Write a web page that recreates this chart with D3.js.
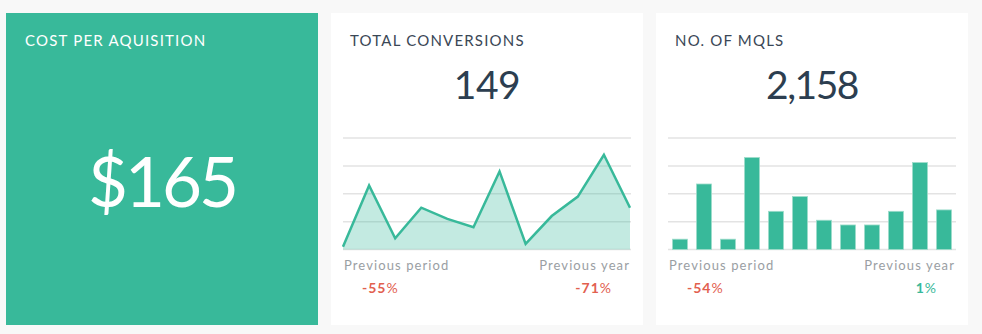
<!DOCTYPE html>
<html>
<head>
<meta charset="utf-8">
<script src="https://cdn.jsdelivr.net/npm/d3@7/dist/d3.min.js"></script>
<style>
  html, body { margin: 0; padding: 0; background: #f8f8f8; }
  svg { display: block; }
  text { font-family: Lato, "Open Sans", sans-serif; }
</style>
</head>
<body>
<svg id="dash" width="982" height="334"></svg>
<script>
// KPI values
const cpaValue = "$165";
const conversionsTotal = "149";
const mqlTotal = "2,158";

// Total conversions, per period
const conversionPeriods = ["P1","P2","P3","P4","P5","P6","P7","P8","P9","P10","P11","P12"];
const conversionValues = [1, 23, 4, 15, 11, 8, 28, 2, 12, 19, 34, 15];
const conversionTicks = [0, 10, 20, 30, 40];

// Number of MQLs, per period
const mqlPeriods = ["P1","P2","P3","P4","P5","P6","P7","P8","P9","P10","P11","P12"];
const mqlValues = [37, 235, 37, 330, 137, 190, 105, 88, 88, 137, 312, 142];
const mqlTicks = [0, 100, 200, 300, 400];

// Comparison figures
const conversionChange = { period: "-55", year: "-71" };
const mqlChange = { period: "-54", year: "1" };

const GREEN = "#38b99a";
const RED = "#e2604f";
const svg = d3.select("#dash");

// Cards
const cardW = 312, cardH = 312, cardY = 13;
const cardX = [6, 331, 656];

svg.append("rect").attr("x", cardX[0]).attr("y", cardY).attr("width", cardW).attr("height", cardH).attr("fill", GREEN);
svg.append("rect").attr("x", cardX[1]).attr("y", cardY).attr("width", cardW).attr("height", cardH).attr("fill", "#fff");
svg.append("rect").attr("x", cardX[2]).attr("y", cardY).attr("width", cardW).attr("height", cardH).attr("fill", "#fff");

function title(x, txt, color) {
  svg.append("text").attr("x", x).attr("y", 46)
    .attr("font-size", 15).attr("letter-spacing", 1.2)
    .attr("fill", color).text(txt);
}
title(cardX[0] + 19, "COST PER AQUISITION", "#ffffff");
title(cardX[1] + 19, "TOTAL CONVERSIONS", "#3a4756");
title(cardX[2] + 19, "NO. OF MQLS", "#3a4756");

svg.append("text").attr("x", cardX[0] + cardW / 2).attr("y", 207)
  .attr("text-anchor", "middle").attr("font-size", 69).attr("font-weight", 400)
  .attr("letter-spacing", -3)
  .attr("fill", "#fff").text(cpaValue);

svg.append("text").attr("x", cardX[1] + cardW / 2).attr("y", 99)
  .attr("text-anchor", "middle").attr("font-size", 39).attr("font-weight", 400)
  .attr("letter-spacing", -0.5)
  .attr("fill", "#2c3e50").text(conversionsTotal);
svg.append("text").attr("x", cardX[2] + cardW / 2).attr("y", 99)
  .attr("text-anchor", "middle").attr("font-size", 39).attr("font-weight", 400)
  .attr("letter-spacing", -1.5)
  .attr("fill", "#2c3e50").text(mqlTotal);

// Plot area shared by both mini charts
const plotTop = 138, plotBottom = 249.5;

function gridlines(g, y, ticks, x0, x1) {
  g.selectAll("line.grid").data(ticks).join("line")
    .attr("class", "grid")
    .attr("x1", x0).attr("x2", x1)
    .attr("y1", d => y(d)).attr("y2", d => y(d))
    .attr("stroke", "#e3e3e3").attr("stroke-width", 1.5);
}

// Area chart: total conversions
{
  const x0 = cardX[1] + 12, x1 = cardX[1] + 300;
  const x = d3.scalePoint().domain(conversionPeriods).range([x0, x1 - 1]);
  const y = d3.scaleLinear().domain([0, d3.max(conversionTicks)]).range([plotBottom, plotTop]);
  const g = svg.append("g");
  gridlines(g, y, conversionTicks, x0, x1);
  const data = conversionPeriods.map((p, i) => ({ p, v: conversionValues[i] }));
  g.append("path").datum(data)
    .attr("d", d3.area().x(d => x(d.p)).y0(y(0)).y1(d => y(d.v)))
    .attr("fill", GREEN).attr("fill-opacity", 0.3);
  g.append("path").datum(data)
    .attr("d", d3.line().x(d => x(d.p)).y(d => y(d.v)))
    .attr("fill", "none").attr("stroke", GREEN).attr("stroke-width", 2.5)
    .attr("stroke-linejoin", "miter");
}

// Bar chart: number of MQLs
{
  const x0 = cardX[2] + 12, x1 = cardX[2] + 300;
  const x = d3.scaleBand().domain(mqlPeriods).range([x0, x1])
    .paddingInner(0.375).paddingOuter(0.1875);
  const y = d3.scaleLinear().domain([0, d3.max(mqlTicks)]).range([plotBottom, plotTop]);
  const g = svg.append("g");
  gridlines(g, y, mqlTicks, x0, x1);
  g.selectAll("rect.bar").data(mqlValues).join("rect")
    .attr("class", "bar")
    .attr("x", (d, i) => x(mqlPeriods[i]))
    .attr("width", x.bandwidth())
    .attr("y", d => y(d))
    .attr("height", d => y(0) - y(d))
    .attr("fill", GREEN)
    .attr("stroke", "#9edccb").attr("stroke-width", 0.8);
}

// Footer comparisons
function footer(cx, change) {
  const left = cx + 12, right = cx + 300;
  svg.append("text").attr("x", left + 1).attr("y", 270)
    .attr("font-size", 13).attr("letter-spacing", 1.1).attr("fill", "#9a9ea3").text("Previous period");
  svg.append("text").attr("x", right - 1).attr("y", 270).attr("text-anchor", "end")
    .attr("font-size", 13).attr("letter-spacing", 1.1).attr("fill", "#9a9ea3").text("Previous year");
  const pct = (x, anchor, v) => {
    const neg = v.startsWith("-");
    const t = svg.append("text").attr("x", x).attr("y", 293).attr("text-anchor", anchor)
      .attr("font-size", 14).attr("fill", neg ? RED : GREEN).attr("letter-spacing", 1);
    t.append("tspan").attr("font-weight", 700).text(v);
    t.append("tspan").attr("font-weight", 400).text("%");
  };
  pct(left + 19, "start", change.period);
  pct(right - 19, "end", change.year);
}
footer(cardX[1], conversionChange);
footer(cardX[2], mqlChange);
</script>
</body>
</html>
